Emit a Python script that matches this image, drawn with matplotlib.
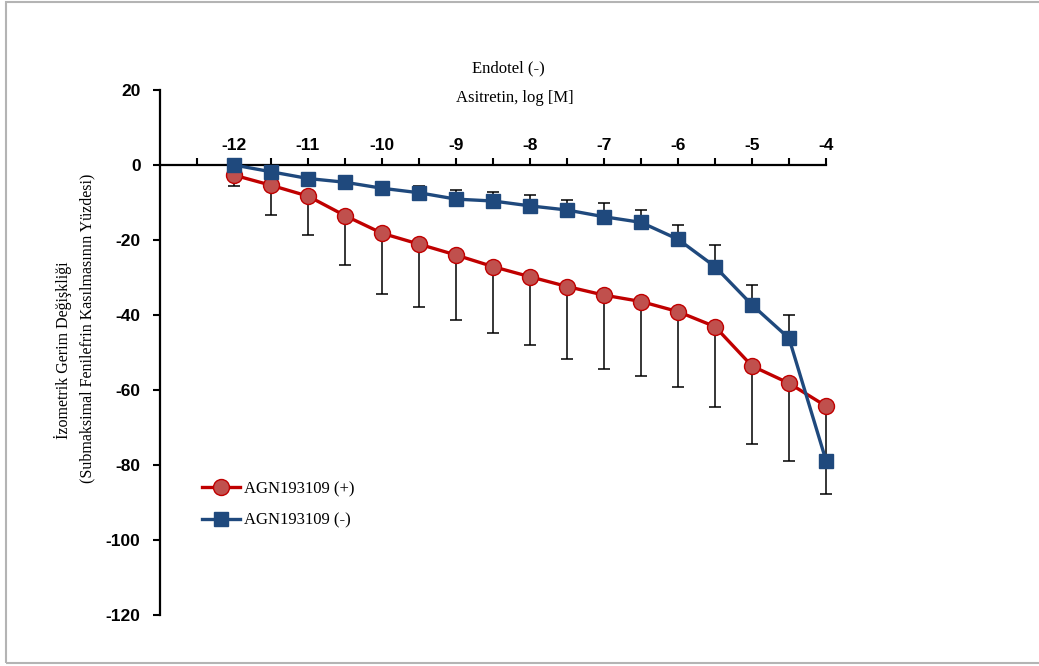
import matplotlib
matplotlib.use('Agg')
import matplotlib.pyplot as plt
from matplotlib.patches import Rectangle

plt.rcParams['axes.unicode_minus'] = False

# log concentration of Asitretin
log_conc = [-12, -11.5, -11, -10.5, -10, -9.5, -9, -8.5, -8,
            -7.5, -7, -6.5, -6, -5.5, -5, -4.5, -4]

# AGN193109 (+) mean and SEM (drawn downward)
agn_plus = [-2.7, -5.4, -8.3, -13.5, -18.2, -21.1, -24.0, -27.1, -29.8,
            -32.4, -34.7, -36.4, -39.1, -43.1, -53.6, -58.2, -64.3]
agn_plus_err = [2.9, 7.9, 10.3, 13.1, 16.3, 16.8, 17.4, 17.6, 18.2,
                19.3, 19.6, 19.9, 20.2, 21.5, 20.9, 20.6, 15.0]

# AGN193109 (-) mean and SEM (upward, last point downward)
agn_minus = [0.0, -1.8, -3.6, -4.6, -6.2, -7.4, -9.1, -9.6, -10.9,
             -12.0, -13.8, -15.3, -19.8, -27.1, -37.3, -46.2, -78.8]
agn_minus_err_up = [0, 0, 0, 0, 0.5, 1.9, 2.4, 2.5, 2.9,
                    2.8, 3.6, 3.2, 3.8, 5.8, 5.4, 6.3, 0]
agn_minus_err_down = [0, 0, 0, 0, 0, 0, 0, 0, 0,
                      0, 0, 0, 0, 0, 0, 0, 9.0]

major_ticks = [-12, -11, -10, -9, -8, -7, -6, -5, -4]
y_ticks = [20, 0, -20, -40, -60, -80, -100, -120]

red_line = '#C00000'
red_face = '#C0504D'
blue = '#1F497D'
serif = 'Liberation Serif'
sans = 'Liberation Sans'

fig = plt.figure(figsize=(10.39, 6.66), dpi=100)
W, H = 1039, 666
ax = fig.add_axes([160 / W, 1 - 615 / H, (826 - 160) / W, (615 - 90) / H])

# thin grey frame around the whole picture
fig.patches.append(Rectangle((6 / W, 3 / H), 1.1, 1 - 5 / H, transform=fig.transFigure,
                             fill=False, edgecolor='#b4b4b4', linewidth=1.5))

for y, err in [(agn_plus, [agn_plus_err, [0] * len(agn_plus)]),
               (agn_minus, [agn_minus_err_down, agn_minus_err_up])]:
    eb = ax.errorbar(log_conc, y, yerr=err, fmt='none', ecolor='black',
                     elinewidth=1.1, capsize=4, capthick=1.1, zorder=2)
    for art in eb.lines[1] + eb.lines[2]:
        art.set_clip_on(False)

ax.plot(log_conc, agn_plus, '-o', color=red_line, lw=2.4, markersize=11.5,
        markerfacecolor=red_face, markeredgecolor=red_line, markeredgewidth=1,
        label='AGN193109 (+)', zorder=3, clip_on=False)
ax.plot(log_conc, agn_minus, '-s', color=blue, lw=2.4, markersize=10,
        markerfacecolor=blue, markeredgecolor=blue,
        label='AGN193109 (-)', zorder=4, clip_on=False)

ax.set_xlim(-13, -4)
ax.set_ylim(-120, 20)

# x axis crosses at y = 0, ticks and labels above it
ax.spines['bottom'].set_visible(False)
ax.spines['right'].set_visible(False)
ax.spines['top'].set_position(('data', 0))
ax.spines['top'].set_linewidth(1.6)
ax.spines['left'].set_linewidth(1.6)
ax.xaxis.tick_top()
ax.set_xticks(major_ticks)
ax.set_xticks([t + 0.5 for t in major_ticks[:-1]] + [-12.5], minor=True)
ax.tick_params(axis='x', which='both', direction='out', length=5, width=1.5,
               pad=4, labelsize=12.5)
ax.set_yticks(y_ticks)
ax.tick_params(axis='y', direction='out', length=5, width=1.5, pad=9, labelsize=12.5)
for lab in ax.get_xticklabels() + ax.get_yticklabels():
    lab.set_fontfamily(sans)
    lab.set_fontweight('bold')

fig.text(508 / W, 1 - 68 / H, 'Endotel (-)', ha='center', va='center',
         family=serif, fontsize=12)
fig.text(515 / W, 1 - 98 / H, 'Asitretin, log [M]', ha='center', va='center',
         family=serif, fontsize=12)

fig.text(63 / W, 1 - 350 / H, 'İzometrik Gerim Değişkliği', rotation=90,
         ha='center', va='center', family=serif, fontsize=11.5)
fig.text(87 / W, 1 - 328 / H, '(Submaksimal Fenilefrin Kasılmasının Yüzdesi)', rotation=90,
         ha='center', va='center', family=serif, fontsize=11.5)

leg = ax.legend(loc='upper left', bbox_to_anchor=(202 / W, 1 - 481 / H),
                bbox_transform=fig.transFigure, frameon=False,
                prop={'family': serif, 'size': 12}, handlelength=2.3,
                handletextpad=0.25, labelspacing=0.95, borderpad=0, borderaxespad=0)

fig.savefig('out.png', dpi=100)
